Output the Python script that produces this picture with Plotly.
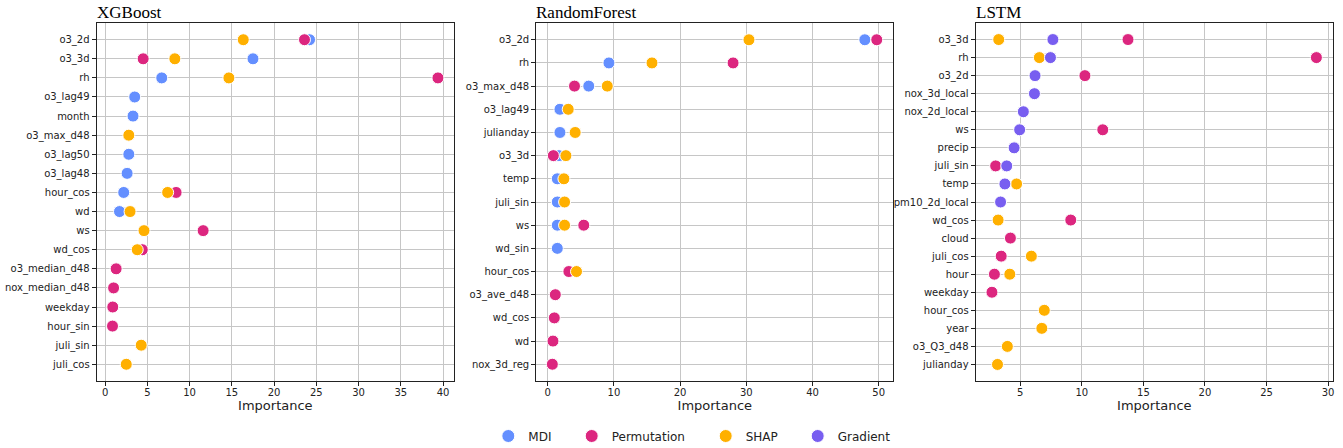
import plotly.graph_objects as go

# ---------------- data ----------------
methods = ["MDI", "Permutation", "SHAP", "Gradient"]
colors = {"MDI": "#648FFF", "Permutation": "#DC267F", "SHAP": "#FFB000", "Gradient": "#785EF0"}

# XGBoost
xgb_features = ["o3_2d", "o3_3d", "rh", "o3_lag49", "month", "o3_max_d48", "o3_lag50", "o3_lag48",
                "hour_cos", "wd", "ws", "wd_cos", "o3_median_d48", "nox_median_d48", "weekday",
                "hour_sin", "juli_sin", "juli_cos"]
xgb_mdi = [24.2, 17.5, 6.7, 3.5, 3.3, None, 2.8, 2.6, 2.2, 1.7, None, None, None, None, None, None, None, None]
xgb_perm = [23.6, 4.5, 39.4, None, None, None, None, None, 8.4, None, 11.6, 4.4, 1.3, 1.0, 0.9, 0.87, None, None]
xgb_shap = [16.35, 8.25, 14.65, None, None, 2.8, None, None, 7.4, 2.95, 4.6, 3.8, None, None, None, None, 4.27, 2.5]

# RandomForest
rf_features = ["o3_2d", "rh", "o3_max_d48", "o3_lag49", "julianday", "o3_3d", "temp", "juli_sin",
               "ws", "wd_sin", "hour_cos", "o3_ave_d48", "wd_cos", "wd", "nox_3d_reg"]
rf_mdi = [47.9, 9.25, 6.2, 1.85, 1.85, 1.7, 1.45, 1.45, 1.45, 1.45, None, None, None, None, None]
rf_perm = [49.7, 28.0, 4.05, None, None, 0.85, None, None, 5.45, None, 3.2, 1.15, 1.0, 0.8, 0.7]
rf_shap = [30.4, 15.75, 9.0, 3.1, 4.15, 2.75, 2.45, 2.55, 2.55, None, 4.35, None, None, None, None]

# LSTM
lstm_features = ["o3_3d", "rh", "o3_2d", "nox_3d_local", "nox_2d_local", "ws", "precip", "juli_sin",
                 "temp", "pm10_2d_local", "wd_cos", "cloud", "juli_cos", "hour", "weekday",
                 "hour_cos", "year", "o3_Q3_d48", "julianday"]
lstm_perm = [13.75, 29.05, 10.25, None, None, 11.7, None, 3.0, None, None, 9.1, 4.2, 3.45, 2.9, 2.7,
             None, None, None, None]
lstm_shap = [3.25, 6.55, None, None, None, None, None, None, 4.7, None, 3.2, None, 5.9, 4.15, None,
             6.95, 6.75, 3.95, 3.15]
lstm_grad = [7.65, 7.45, 6.2, 6.15, 5.25, 4.95, 4.5, 3.9, 3.75, 3.4, None, None, None, None, None,
             None, None, None, None]

panels = [
    ("XGBoost", xgb_features, {"MDI": xgb_mdi, "Permutation": xgb_perm, "SHAP": xgb_shap},
     [-1.0, 41.3], [0, 5, 10, 15, 20, 25, 30, 35, 40], 0.86),
    ("RandomForest", rf_features, {"MDI": rf_mdi, "Permutation": rf_perm, "SHAP": rf_shap},
     [-1.72, 52.2], [0, 10, 20, 30, 40, 50], 0.71),
    ("LSTM", lstm_features, {"Permutation": lstm_perm, "SHAP": lstm_shap, "Gradient": lstm_grad},
     [1.38, 30.4], [5, 10, 15, 20, 25, 30], 0.9),
]

# the figure is a little taller than the 448px window so the legend box stays inside the paper
W, H = 1343, 460


def px(x):
    return x / W


def py(y):
    return 1 - y / H


xdoms = [(px(96.7), px(454)), (px(536.3), px(893.3)), (px(975.7), px(1333))]
ydom = (py(380.7), py(23.3))

fig = go.Figure()
for i, (title, feats, series, xr, xt, pad) in enumerate(panels):
    k = "" if i == 0 else str(i + 1)
    for m in methods:
        if m not in series:
            continue
        vals = series[m]
        xs = [v for v in vals if v is not None]
        ys = [f for f, v in zip(feats, vals) if v is not None]
        fig.add_trace(go.Scatter(
            x=xs, y=ys, mode="markers", name=m,
            xaxis="x" + k, yaxis="y" + k,
            marker=dict(size=12, color=colors[m], line=dict(color="white", width=1)),
            showlegend=False, hoverinfo="x+y+name",
        ))
    n = len(feats)
    fig.update_layout(**{
        "xaxis" + k: dict(
            domain=list(xdoms[i]), anchor="y" + k, range=xr, tickvals=xt,
            showgrid=True, gridcolor="#c6c6c6", gridwidth=1, zeroline=False,
            showline=True, mirror=True, linecolor="#222", linewidth=1.2,
            ticks="outside", ticklen=4, tickcolor="#222", ticklabelstandoff=-2,
            tickfont=dict(family="DejaVu Sans", size=10, color="#222"),
            title=dict(text="Importance", font=dict(family="DejaVu Sans", size=13, color="#222"), standoff=0),
            automargin=False,
        ),
        "yaxis" + k: dict(
            domain=list(ydom), anchor="x" + k, type="category",
            categoryorder="array", categoryarray=feats,
            range=[n - 1 + pad, -pad],
            showgrid=True, gridcolor="#c6c6c6", gridwidth=1, zeroline=False,
            showline=True, mirror=True, linecolor="#222", linewidth=1.2,
            ticks="outside", ticklen=4, tickcolor="#222",
            tickfont=dict(family="DejaVu Sans", size=10, color="#222"),
            automargin=False,
        ),
    })
    fig.add_annotation(text=title, xref="paper", yref="paper",
                       x=xdoms[i][0], y=ydom[1], xanchor="left", yanchor="bottom", yshift=-1, xshift=-2,
                       showarrow=False, font=dict(family="Liberation Serif", size=17, color="black"))

# legend: one legend box per method so the entries sit where the reference has them
legend_x = [508.3, 591.7, 725.7, 817.7]
for j, m in enumerate(methods):
    lk = "legend" if j == 0 else "legend" + str(j + 1)
    fig.add_trace(go.Scatter(
        x=[None], y=[None], mode="markers", name=m,
        marker=dict(size=13, color=colors[m], line=dict(color="white", width=1)),
        showlegend=True, legend=lk, xaxis="x", yaxis="y", hoverinfo="skip",
    ))
    fig.update_layout(**{lk: dict(
        x=px(legend_x[j] - 20), y=py(436), xanchor="left", yanchor="middle",
        orientation="h", bgcolor="rgba(0,0,0,0)", borderwidth=0,
        font=dict(family="DejaVu Sans", size=12, color="#222"),
    )})

fig.update_layout(
    width=W, height=H, margin=dict(l=0, r=0, t=0, b=0),
    paper_bgcolor="white", plot_bgcolor="white",
)
fig.write_html("out.html", config={"displayModeBar": False},
               post_script="document.body.style.margin='0px';document.body.style.overflow='hidden';")
